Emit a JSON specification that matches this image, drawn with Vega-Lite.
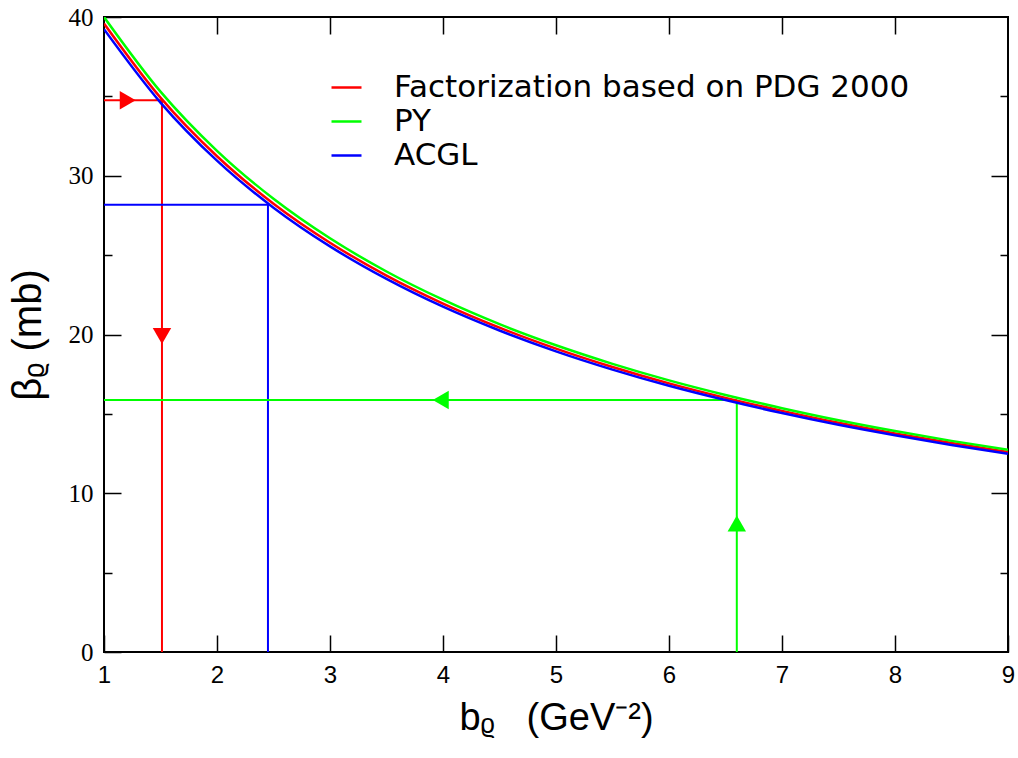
{
  "$schema": "https://vega.github.io/schema/vega-lite/v6.json",
  "autosize": {"type": "none"},
  "width": 904,
  "height": 635,
  "padding": {"left": 104, "top": 17, "right": 10, "bottom": 106},
  "background": "white",
  "config": {
    "view": {"stroke": "black", "strokeWidth": 2},
    "axis": {"grid": false, "domain": false, "tickColor": "black", "tickWidth": 1.5, "labelColor": "black", "titleColor": "black", "labelFlush": false},
    "legend": {"symbolType": "stroke"}
  },
  "datasets": {
    "curves": [
      {"b": 1.0, "beta": 39.59, "series": "Factorization based on PDG 2000"},
      {"b": 1.5, "beta": 34.92, "series": "Factorization based on PDG 2000"},
      {"b": 2.0, "beta": 31.23, "series": "Factorization based on PDG 2000"},
      {"b": 2.5, "beta": 28.24, "series": "Factorization based on PDG 2000"},
      {"b": 3.0, "beta": 25.78, "series": "Factorization based on PDG 2000"},
      {"b": 3.5, "beta": 23.71, "series": "Factorization based on PDG 2000"},
      {"b": 4.0, "beta": 21.95, "series": "Factorization based on PDG 2000"},
      {"b": 4.5, "beta": 20.43, "series": "Factorization based on PDG 2000"},
      {"b": 5.0, "beta": 19.11, "series": "Factorization based on PDG 2000"},
      {"b": 5.5, "beta": 17.95, "series": "Factorization based on PDG 2000"},
      {"b": 6.0, "beta": 16.92, "series": "Factorization based on PDG 2000"},
      {"b": 6.5, "beta": 16.01, "series": "Factorization based on PDG 2000"},
      {"b": 7.0, "beta": 15.19, "series": "Factorization based on PDG 2000"},
      {"b": 7.5, "beta": 14.44, "series": "Factorization based on PDG 2000"},
      {"b": 8.0, "beta": 13.77, "series": "Factorization based on PDG 2000"},
      {"b": 8.5, "beta": 13.16, "series": "Factorization based on PDG 2000"},
      {"b": 9.0, "beta": 12.60, "series": "Factorization based on PDG 2000"},
      {"b": 1.0, "beta": 40.0, "series": "PY"},
      {"b": 1.5, "beta": 35.30, "series": "PY"},
      {"b": 2.0, "beta": 31.57, "series": "PY"},
      {"b": 2.5, "beta": 28.55, "series": "PY"},
      {"b": 3.0, "beta": 26.06, "series": "PY"},
      {"b": 3.5, "beta": 23.97, "series": "PY"},
      {"b": 4.0, "beta": 22.19, "series": "PY"},
      {"b": 4.5, "beta": 20.65, "series": "PY"},
      {"b": 5.0, "beta": 19.32, "series": "PY"},
      {"b": 5.5, "beta": 18.15, "series": "PY"},
      {"b": 6.0, "beta": 17.11, "series": "PY"},
      {"b": 6.5, "beta": 16.19, "series": "PY"},
      {"b": 7.0, "beta": 15.36, "series": "PY"},
      {"b": 7.5, "beta": 14.60, "series": "PY"},
      {"b": 8.0, "beta": 13.92, "series": "PY"},
      {"b": 8.5, "beta": 13.30, "series": "PY"},
      {"b": 9.0, "beta": 12.74, "series": "PY"},
      {"b": 1.0, "beta": 39.23, "series": "ACGL"},
      {"b": 1.5, "beta": 34.61, "series": "ACGL"},
      {"b": 2.0, "beta": 30.95, "series": "ACGL"},
      {"b": 2.5, "beta": 27.99, "series": "ACGL"},
      {"b": 3.0, "beta": 25.55, "series": "ACGL"},
      {"b": 3.5, "beta": 23.50, "series": "ACGL"},
      {"b": 4.0, "beta": 21.75, "series": "ACGL"},
      {"b": 4.5, "beta": 20.25, "series": "ACGL"},
      {"b": 5.0, "beta": 18.94, "series": "ACGL"},
      {"b": 5.5, "beta": 17.79, "series": "ACGL"},
      {"b": 6.0, "beta": 16.77, "series": "ACGL"},
      {"b": 6.5, "beta": 15.87, "series": "ACGL"},
      {"b": 7.0, "beta": 15.05, "series": "ACGL"},
      {"b": 7.5, "beta": 14.31, "series": "ACGL"},
      {"b": 8.0, "beta": 13.65, "series": "ACGL"},
      {"b": 8.5, "beta": 13.04, "series": "ACGL"},
      {"b": 9.0, "beta": 12.49, "series": "ACGL"}
    ],
    "refs": [
      {"series": "Factorization based on PDG 2000", "b1": 1.0, "b2": 1.513, "y1": 34.75, "y2": 34.75},
      {"series": "Factorization based on PDG 2000", "b1": 1.513, "b2": 1.513, "y1": 34.75, "y2": 0},
      {"series": "ACGL", "b1": 1.0, "b2": 2.451, "y1": 28.18, "y2": 28.18},
      {"series": "ACGL", "b1": 2.451, "b2": 2.451, "y1": 28.18, "y2": 0},
      {"series": "PY", "b1": 1.0, "b2": 6.6, "y1": 15.88, "y2": 15.88},
      {"series": "PY", "b1": 6.6, "b2": 6.6, "y1": 15.88, "y2": 0}
    ],
    "arrows": [
      {"series": "Factorization based on PDG 2000", "b": 1.21, "beta": 34.75, "dir": "right"},
      {"series": "Factorization based on PDG 2000", "b": 1.513, "beta": 19.9, "dir": "down"},
      {"series": "PY", "b": 3.98, "beta": 15.88, "dir": "left"},
      {"series": "PY", "b": 6.6, "beta": 8.1, "dir": "up"}
    ]
  },
  "layer": [
    {
      "data": {"name": "refs"},
      "mark": {"type": "rule", "strokeWidth": 2},
      "encoding": {
        "x": {"field": "b1", "type": "quantitative", "scale": {"domain": [1, 9], "nice": false, "zero": false},
          "axis": {"orient": "top", "values": [2,3,4,5,6,7,8], "labels": false, "title": null,
            "tickSize": {"condition": {"test": "true", "value": -17}, "value": -17}}},
        "x2": {"field": "b2"},
        "y": {"field": "y1", "type": "quantitative", "scale": {"domain": [0, 40], "nice": false, "zero": false},
          "axis": {"orient": "right", "values": [5,10,15,20,25,30,35], "labels": false, "title": null,
            "tickSize": {"condition": {"test": "datum.value % 10 === 0", "value": -17}, "value": -8}}},
        "y2": {"field": "y2"},
        "color": {"field": "series", "type": "nominal",
          "scale": {"domain": ["Factorization based on PDG 2000", "PY", "ACGL"], "range": ["#ff0000", "#00ff00", "#0000ff"]},
          "legend": {"orient": "none", "legendX": 226, "legendY": 54, "title": null, "labelFont": "DejaVu Sans", "labelFontSize": 31,
            "symbolSize": 900, "symbolStrokeWidth": 2.5, "labelOffset": 31, "rowPadding": 2, "labelLimit": 900}}
      }
    },
    {
      "data": {"name": "curves"},
      "mark": {"type": "line", "strokeWidth": 2.5, "interpolate": "monotone", "clip": true},
      "encoding": {
        "x": {"field": "b", "type": "quantitative", "scale": {"domain": [1, 9], "nice": false, "zero": false},
          "axis": {"orient": "bottom", "values": [1,2,3,4,5,6,7,8,9], "labelPadding": 28,
            "tickSize": {"condition": {"test": "true", "value": -17}, "value": -17},
            "labelFont": "Liberation Sans", "labelFontSize": 24, "title": "bᵨ\u00a0\u00a0 (GeV⁻²)", "titleFont": "Liberation Sans",
            "titleFontSize": 38, "titleFontWeight": "normal", "titlePadding": 12}},
        "y": {"field": "beta", "type": "quantitative", "scale": {"domain": [0, 40], "nice": false, "zero": false},
          "axis": {"orient": "left", "values": [0,5,10,15,20,25,30,35,40], "labelPadding": 28,
            "tickSize": {"condition": {"test": "datum.value % 10 === 0", "value": -17}, "value": -8},
            "labelExpr": "datum.value % 10 === 0 ? datum.label : ''",
            "labelFont": "Liberation Serif", "labelFontSize": 25, "title": "βᵨ (mb)", "titleFont": "Liberation Sans",
            "titleFontSize": 40, "titleFontWeight": "normal", "titlePadding": 20}},
        "color": {"field": "series", "type": "nominal"}
      }
    },
    {
      "data": {"name": "arrows"},
      "mark": {"type": "point", "filled": true, "opacity": 1, "size": 340},
      "encoding": {
        "x": {"field": "b", "type": "quantitative", "axis": null},
        "y": {"field": "beta", "type": "quantitative", "axis": null},
        "color": {"field": "series", "type": "nominal"},
        "shape": {"field": "dir", "type": "nominal", "legend": null,
          "scale": {"domain": ["right", "down", "left", "up"], "range": ["triangle-right", "triangle-down", "triangle-left", "triangle-up"]}}
      }
    }
  ],
  "resolve": {"axis": {"x": "independent", "y": "independent"}}
}
